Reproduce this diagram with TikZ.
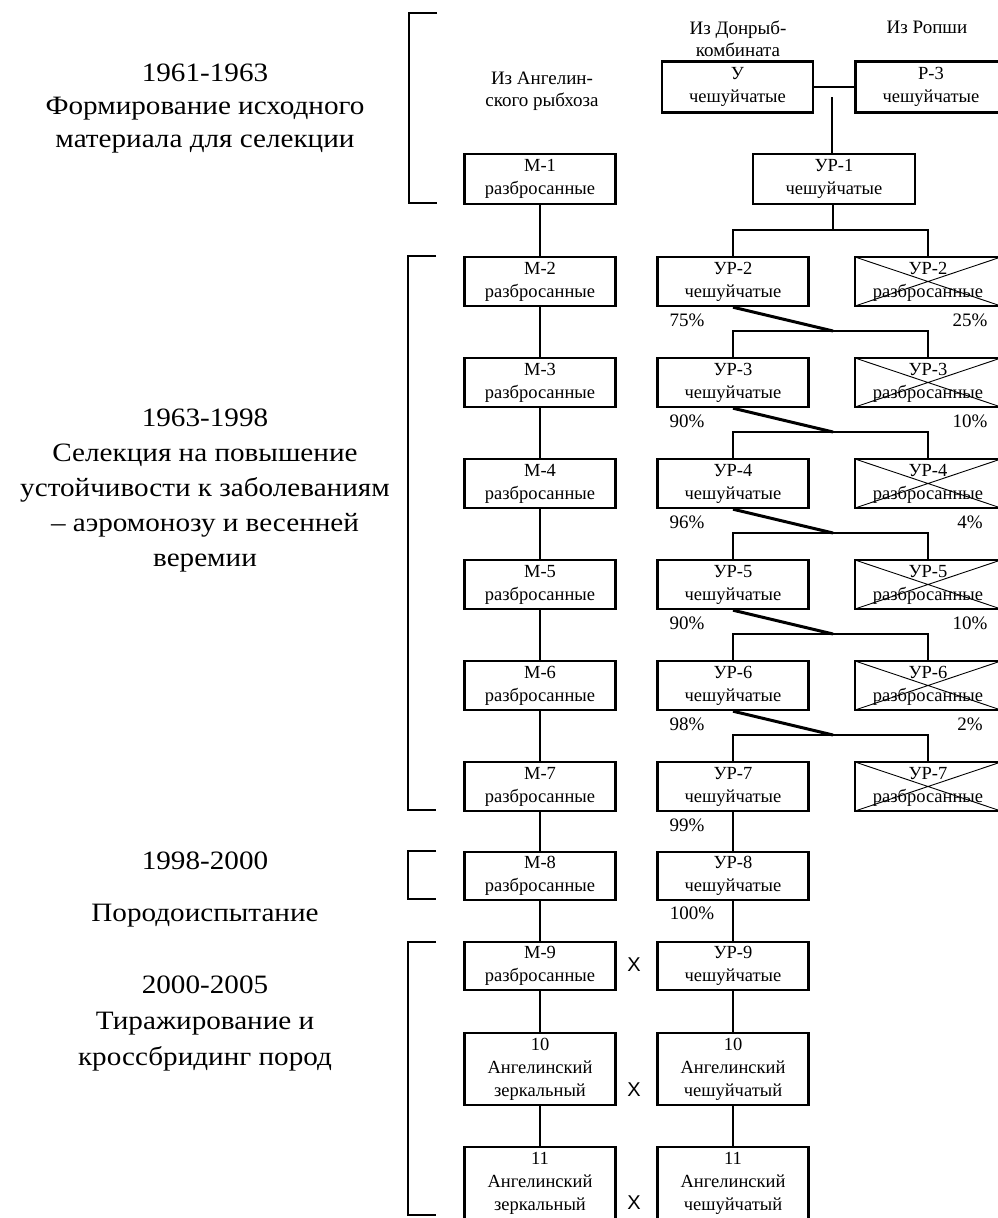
\documentclass[tikz,border=0pt]{standalone}
\usepackage{fontspec}
\setmainfont{Liberation Serif}
\newfontfamily\erafont{Liberation Serif}[FakeStretch=1.1]
\newfontfamily\xsans{Liberation Sans}
\begin{document}
\begin{tikzpicture}[x=1pt,y=-1pt,
  box/.style={draw, line width=2.4pt, minimum width=151pt, minimum height=49pt, inner sep=0pt, align=center, font=\fontsize{18.5}{23}\selectfont},
  tallbox/.style={box, minimum height=72pt},
  crossbox/.style={box, minimum width=146pt, path picture={\draw[line width=0.9pt] (path picture bounding box.north west) -- (path picture bounding box.south east) (path picture bounding box.south west) -- (path picture bounding box.north east);}},
  link/.style={line width=2.2pt},
  diag/.style={line width=3pt},
  bracket/.style={line width=2pt},
  lbl/.style={align=center, font=\fontsize{19}{22}\selectfont, inner sep=0pt},
  pct/.style={font=\fontsize{19}{22}\selectfont, inner sep=0pt},
  era/.style={align=center, inner sep=0pt},
  crossmark/.style={font=\xsans\fontsize{20}{24}\selectfont, inner sep=0pt}
]
\useasboundingbox (0,0) rectangle (997,1218);

% era texts
\node[era, font=\erafont\fontsize{26.5}{33}\selectfont] (e1) at (205,109) {1961-1963\\Формирование исходного\\материала для селекции};
\node[era, font=\erafont\fontsize{26.5}{35}\selectfont] (e2) at (205,491) {1963-1998\\Селекция на повышение\\устойчивости к заболеваниям\\– аэромонозу и весенней\\веремии};
\node[era, font=\erafont\fontsize{26.5}{35}\selectfont] (e3) at (205,861) {1998-2000};
\node[era, font=\erafont\fontsize{26.5}{35}\selectfont] (e3b) at (205,916) {Породоиспытание};
\node[era, font=\erafont\fontsize{26.5}{36}\selectfont] (e4) at (205,1023) {2000-2005\\Тиражирование и\\кроссбридинг пород};

% brackets
\draw[bracket] (437,13) -- (409,13) -- (409,203) -- (437,203);
\draw[bracket] (436,256) -- (408,256) -- (408,810) -- (436,810);
\draw[bracket] (436,851) -- (408,851) -- (408,899) -- (436,899);
\draw[bracket] (436,942) -- (408,942) -- (408,1215) -- (436,1215);

% sources
\node[lbl] (src1) at (738,39) {Из Донрыб-\\комбината};
\node[lbl] (src2) at (927,27) {Из Ропши};
\node[lbl] (src3) at (542,91) {Из Ангелин-\\ского рыбхоза};

% row 1
\node[box, minimum height=51pt] (u) at (737.5,87) {У\\чешуйчатые};
\node[box, minimum height=51pt] (r3) at (931,87) {Р-3\\чешуйчатые};
\node[box, minimum height=50pt] (m1) at (540,179) {М-1\\разбросанные};
\node[box, minimum height=50pt, minimum width=162pt] (ur1) at (834,179) {УР-1\\чешуйчатые};
\draw[link] (u.east) -- (r3.west);
\coordinate (j0) at (832,97);
\draw[link] (j0) -- (j0 |- ur1.north);

% rows 2-7
\foreach \k/\t in {2/257,3/358,4/459,5/560,6/661,7/762} {
  \node[box] (m\k) at (540,\t+24.5) {М-\k\\разбросанные};
  \node[box] (ur\k) at (733,\t+24.5) {УР-\k\\чешуйчатые};
  \node[crossbox] (x\k) at (928,\t+24.5) {УР-\k\\разбросанные};
  \coordinate (h\k) at (833,\t-27);
}
\foreach \k/\t in {2/306,3/407,4/508,5/609,6/710,7/811} {
  \coordinate (pl\k) at (687,\t+14);
  \coordinate (pr\k) at (970,\t+14);
}
\node[pct] (p2) at (pl2) {75\%};  \node[pct] (q2) at (pr2) {25\%};
\node[pct] (p3) at (pl3) {90\%};  \node[pct] (q3) at (pr3) {10\%};
\node[pct] (p4) at (pl4) {96\%};  \node[pct] (q4) at (pr4) {4\%};
\node[pct] (p5) at (pl5) {90\%};  \node[pct] (q5) at (pr5) {10\%};
\node[pct] (p6) at (pl6) {98\%};  \node[pct] (q6) at (pr6) {2\%};
\node[pct] (p7) at (pl7) {99\%};

% rows 8-11
\node[box, minimum height=48pt] (m8) at (540,876) {М-8\\разбросанные};
\node[box, minimum height=48pt] (ur8) at (733,876) {УР-8\\чешуйчатые};
\node[pct] (p8) at (692,913) {100\%};
\node[box, minimum height=48pt] (m9) at (540,966) {М-9\\разбросанные};
\node[box, minimum height=48pt] (ur9) at (733,966) {УР-9\\чешуйчатые};
\node[tallbox] (m10) at (540,1069) {10\\Ангелинский\\зеркальный};
\node[tallbox] (ur10) at (733,1069) {10\\Ангелинский\\чешуйчатый};
\node[tallbox] (m11) at (540,1183) {11\\Ангелинский\\зеркальный};
\node[tallbox] (ur11) at (733,1183) {11\\Ангелинский\\чешуйчатый};
\node[crossmark] (c9) at (634,965) {X};
\node[crossmark] (c10) at (634,1090) {X};
\node[crossmark] (c11) at (634,1203) {X};

% M chain
\foreach \a/\b in {1/2,2/3,3/4,4/5,5/6,6/7,7/8,8/9,9/10,10/11} {
  \draw[link] (m\a.south) -- (m\b.north);
}
% UR chain
\coordinate (h1) at (833,230);
\draw[link] (ur1.south -| h1) -- (h1);
\draw[link] (ur2.north) |- (h1) -| (x2.north);
\foreach \a/\b in {2/3,3/4,4/5,5/6,6/7} {
  \draw[diag] (ur\a.south) -- (h\b);
  \draw[link] (ur\b.north) |- (h\b) -| (x\b.north);
}
\foreach \a/\b in {7/8,8/9,9/10,10/11} {
  \draw[link] (ur\a.south) -- (ur\b.north);
}
\end{tikzpicture}
\end{document}
